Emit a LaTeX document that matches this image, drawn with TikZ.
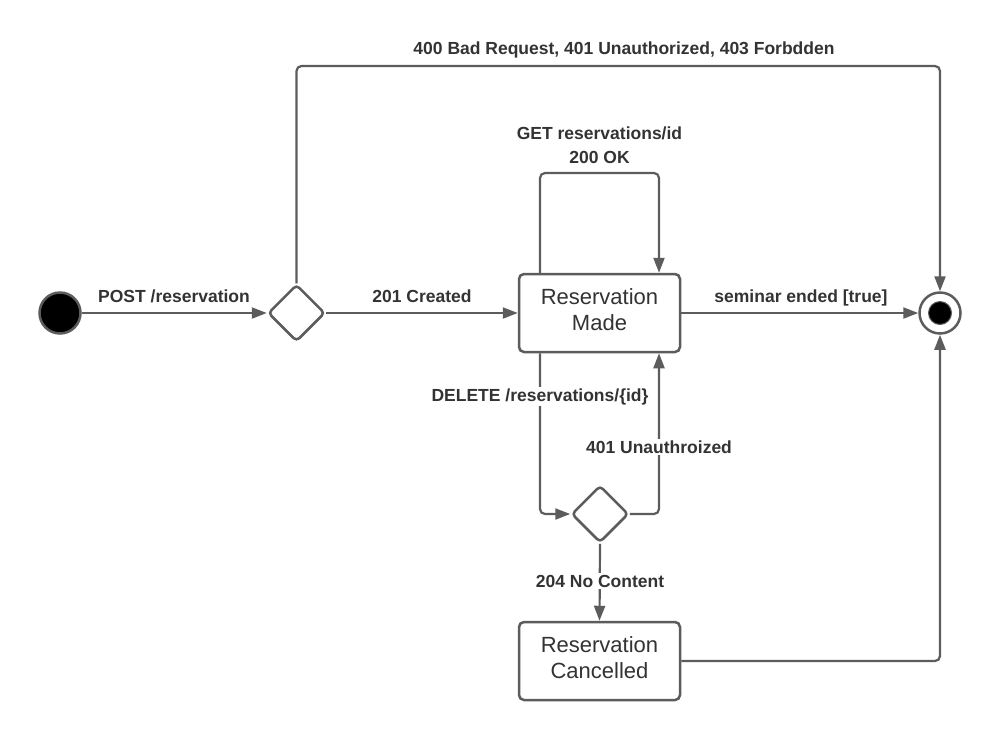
\documentclass[tikz,border=0pt]{standalone}
\usepackage{fontspec}
\setmainfont{Liberation Sans}
\usetikzlibrary{arrows.meta,shapes.geometric}
\definecolor{ln}{HTML}{5C5C5C}
\definecolor{tx}{HTML}{333333}
\begin{document}
\begin{tikzpicture}[x=1pt,y=-1pt,
  conn/.style={draw=ln, line width=2.2pt, rounded corners=5pt, -{Triangle[length=15pt,width=11pt]}},
  state/.style={draw=ln, line width=2.5pt, rounded corners=5pt, minimum width=161pt, minimum height=78pt, align=center, text=tx, font=\fontsize{22}{26}\selectfont, fill=white, text depth=6pt},
  choice/.style={diamond, draw=ln, line width=2.5pt, rounded corners=4pt, minimum width=57pt, minimum height=57pt, inner sep=0pt, fill=white},
  lbl/.style={text=tx, font=\fontsize{17.5}{23.5}\selectfont\bfseries, inner sep=1.5pt, anchor=base},
  lblw/.style={lbl, fill=white}
]
\useasboundingbox (0,0) rectangle (1000,740);
\fill[white] (0,0) rectangle (1000,740);

% nodes
\node[state] (made) at (599.5,313) {Reservation\\Made};
\node[state] (canc) at (599.5,661) {Reservation\\Cancelled};
\node[choice] (d1) at (296.5,313) {};
\node[choice] (d2) at (600,514) {};
\node[circle, fill=black, draw=ln, line width=2.5pt, minimum size=41pt, inner sep=0pt] (init) at (60,313) {};
\node[circle, fill=white, draw=ln, line width=2.5pt, minimum size=41pt, inner sep=0pt] (final) at (940,313) {};
\node[circle, fill=black, draw=ln, line width=1pt, minimum size=23pt, inner sep=0pt] (finalin) at (940,313) {};

\coordinate (tr) at (940,66);
\coordinate (lt) at (540,173);
\coordinate (rt) at (659,173);

% connectors
\draw[conn] (init) -- (d1);
\draw[conn] (d1) -- (made);
\draw[conn] (made) -- (final);
\draw[conn] (d1.north) |- (tr) -- (final.north);
\draw[conn] (made.north -| lt) |- (rt) -- (made.north -| rt);
\draw[conn] (made.south -| lt) |- (d2.west);
\draw[conn] (d2.east) -| (made.south -| rt);
\draw[conn] (d2.south) -- (canc.north);
\draw[conn] (canc.east) -| (final.south);

% labels
\node[lbl] (lpost) at (174,302) {POST /reservation};
\node[lbl] (lcreated) at (422,302) {201 Created};
\node[lbl] (lsem) at (801,302) {seminar ended [true]};
\node[lbl] (ltop) at (624,54) {400 Bad Request, 401 Unauthorized, 403 Forbdden};
\node[lbl, anchor=center, align=center] (lget) at (599.5,145) {GET reservations/id\\200 OK};
\node[lblw] (ldel) at (540,401) {DELETE /reservations/\{id\}};
\node[lblw] (lunauth) at (659,453) {401 Unauthroized};
\node[lblw] (lnc) at (600,587) {204 No Content};
\end{tikzpicture}
\end{document}
